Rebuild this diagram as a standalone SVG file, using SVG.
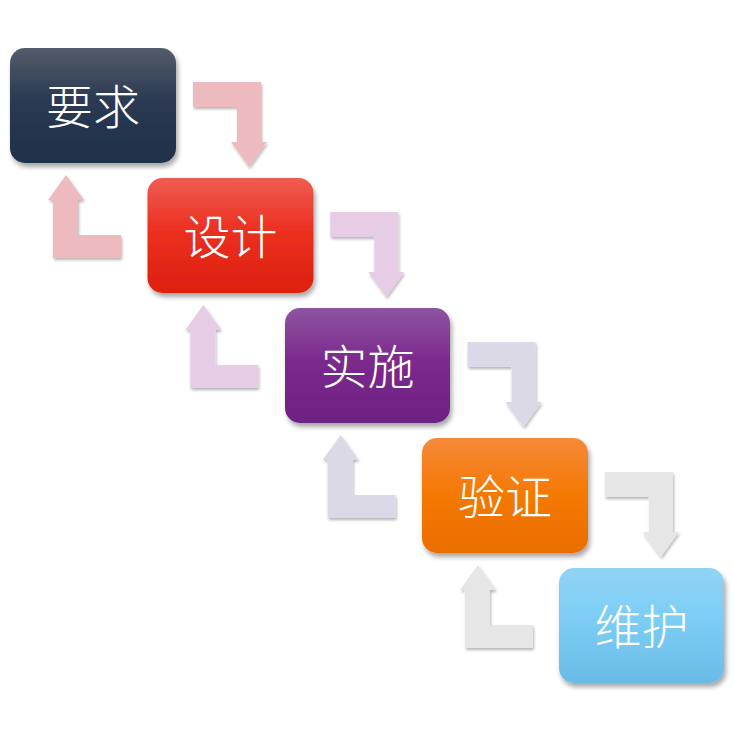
<svg xmlns="http://www.w3.org/2000/svg" width="734" height="731" viewBox="0 0 734 731">
<defs>
<filter id="sh" x="-20%" y="-20%" width="150%" height="150%">
<feGaussianBlur in="SourceAlpha" stdDeviation="2.5"/>
<feOffset dx="2" dy="4" result="b"/>
<feComponentTransfer><feFuncA type="linear" slope="0.35"/></feComponentTransfer>
<feMerge><feMergeNode/><feMergeNode in="SourceGraphic"/></feMerge>
</filter>
<filter id="ash" x="-20%" y="-20%" width="150%" height="150%">
<feGaussianBlur in="SourceAlpha" stdDeviation="1.5"/>
<feOffset dx="1" dy="2" result="b"/>
<feComponentTransfer><feFuncA type="linear" slope="0.3"/></feComponentTransfer>
<feMerge><feMergeNode/><feMergeNode in="SourceGraphic"/></feMerge>
</filter>
<linearGradient id="g1" x1="0" y1="0" x2="0" y2="1"><stop offset="0" stop-color="#535C6A"/><stop offset="0.45" stop-color="#2B3A52"/><stop offset="1" stop-color="#1F3049"/></linearGradient>
<linearGradient id="g2" x1="0" y1="0" x2="0" y2="1"><stop offset="0" stop-color="#EE5D52"/><stop offset="0.45" stop-color="#EC3020"/><stop offset="1" stop-color="#DC200E"/></linearGradient>
<linearGradient id="g3" x1="0" y1="0" x2="0" y2="1"><stop offset="0" stop-color="#8E54A2"/><stop offset="0.45" stop-color="#7C2A8E"/><stop offset="1" stop-color="#6E2082"/></linearGradient>
<linearGradient id="g4" x1="0" y1="0" x2="0" y2="1"><stop offset="0" stop-color="#F6893C"/><stop offset="0.45" stop-color="#F57A06"/><stop offset="1" stop-color="#E96E00"/></linearGradient>
<linearGradient id="g5" x1="0" y1="0" x2="0" y2="1"><stop offset="0" stop-color="#91D3F4"/><stop offset="0.45" stop-color="#7CCDF6"/><stop offset="1" stop-color="#6ABCE6"/></linearGradient>
<path id="down" d="M193,82 H261 V142 H267 L249,167 L231,142 H237 V107 H193 Z"/>
<path id="up" d="M53,258 V200 H48 L66,175 L84,200 H78 V235 H121 V258 Z"/>
</defs>
<style>
.box{filter:url(#sh)}
.lbl{font-family:"Noto Sans CJK SC","Noto Sans CJK JP",sans-serif;font-size:47px;font-weight:300;fill:#fff;text-anchor:middle;dominant-baseline:central}
.arr{filter:url(#ash)}
</style>
<g id="connectors">
<use href="#down" class="arr" fill="#EDBBBF"/>
<use href="#up" class="arr" fill="#EDBBBF"/>
<use href="#down" class="arr" fill="#E6CCE4" transform="translate(137.3,130)"/>
<use href="#up" class="arr" fill="#E6CCE4" transform="translate(137.3,130)"/>
<use href="#down" class="arr" fill="#DCD9E6" transform="translate(274.6,260)"/>
<use href="#up" class="arr" fill="#DCD9E6" transform="translate(274.6,260)"/>
<use href="#down" class="arr" fill="#E6E6E6" transform="translate(411.9,390)"/>
<use href="#up" class="arr" fill="#E6E6E6" transform="translate(411.9,390)"/>
</g>
<g id="n1"><rect class="box" x="10" y="48" width="166" height="115" rx="15" fill="url(#g1)"/><text class="lbl" x="93" y="103">要求</text></g>
<g id="n2"><rect class="box" x="147.5" y="178" width="166" height="115" rx="15" fill="url(#g2)"/><text class="lbl" x="230.5" y="233">设计</text></g>
<g id="n3"><rect class="box" x="285" y="308" width="165" height="115" rx="15" fill="url(#g3)"/><text class="lbl" x="367.5" y="363">实施</text></g>
<g id="n4"><rect class="box" x="422" y="438" width="166" height="115" rx="15" fill="url(#g4)"/><text class="lbl" x="505" y="493">验证</text></g>
<g id="n5"><rect class="box" x="559" y="568" width="165" height="115" rx="15" fill="url(#g5)"/><text class="lbl" x="641.5" y="623">维护</text></g>
</svg>
